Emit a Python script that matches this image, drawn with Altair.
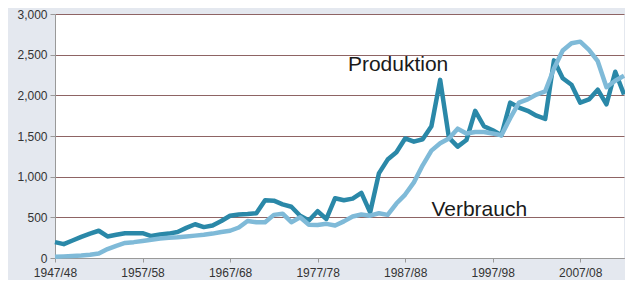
import altair as alt
import pandas as pd

# Seasons 1947/48 ... 2012/13
start_years = list(range(1947, 2013))
seasons = [f"{y}/{(y + 1) % 100:02d}" for y in start_years]

produktion = [
    195, 170, 215, 260, 300, 335, 265, 285, 305, 305,
    305, 270, 290, 300, 320, 370, 415, 380, 400, 455,
    520, 535, 540, 550, 710, 705, 660, 630, 520, 460,
    575, 480, 735, 710, 730, 800, 560, 1040, 1210, 1300,
    1470, 1430, 1460, 1620, 2190, 1480, 1370, 1450, 1810, 1620,
    1570, 1510, 1910, 1850, 1810, 1750, 1710, 2430, 2210, 2130,
    1910, 1950, 2070, 1890, 2290, 2010,
]
verbrauch = [
    15, 20, 25, 30, 40, 55, 110, 150, 185, 195,
    210, 225, 240, 250, 255, 265, 275, 285, 300, 320,
    335, 375, 455, 440, 440, 530, 545, 440, 500, 410,
    405, 420, 400, 450, 510, 535, 520, 550, 530, 670,
    780, 930, 1140, 1320, 1410, 1470, 1590, 1530, 1550, 1550,
    1530, 1510, 1720, 1910, 1950, 2010, 2050, 2330, 2550, 2640,
    2660, 2560, 2420, 2100, 2180, 2240,
]
series_names = ["Produktion", "Verbrauch"]
series_colors = ["#2a88a8", "#7fbad8"]

tick_labels = ["1947/48", "1957/58", "1967/68", "1977/78", "1987/88", "1997/98", "2007/08"]
y_ticks = [0, 500, 1000, 1500, 2000, 2500, 3000]

df = pd.DataFrame({
    "season": seasons * 2,
    "value": produktion + verbrauch,
    "series": ["Produktion"] * len(seasons) + ["Verbrauch"] * len(seasons),
})

prod_label = pd.DataFrame({"season": [seasons[33]], "value": [2300], "text": ["Produktion"]})
verb_label = pd.DataFrame({"season": [seasons[43]], "value": [520], "text": ["Verbrauch"]})

x_enc = alt.X(
    "season:O",
    sort=seasons,
    scale=alt.Scale(type="point", padding=0),
    axis=alt.Axis(
        values=tick_labels,
        labelAngle=0,
        title=None,
        labelFont="Liberation Sans",
        labelFontSize=12,
        labelColor="#333333",
        labelPadding=5,
        tickSize=4,
        tickColor="#999999",
        domainColor="#999999",
        grid=False,
    ),
)
y_enc = alt.Y(
    "value:Q",
    scale=alt.Scale(domain=[0, 3000], nice=False),
    axis=alt.Axis(
        values=y_ticks,
        format=",d",
        title=None,
        labelFont="Liberation Sans",
        labelFontSize=12,
        labelColor="#333333",
        labelPadding=3,
        tickSize=5,
        tickColor="#999999",
        domainColor="#999999",
        grid=True,
        gridColor="#8e6464",
        gridWidth=1,
    ),
)

lines = alt.Chart(df).mark_line(strokeWidth=4.5, strokeJoin="round").encode(
    x=x_enc,
    y=y_enc,
    color=alt.Color("series:N", scale=alt.Scale(domain=series_names, range=series_colors), legend=None),
    detail="series:N",
)

prod_line = lines.transform_filter(alt.datum.series == "Produktion")
verb_line = lines.transform_filter(alt.datum.series == "Verbrauch")


def label_layer(data, dx):
    return alt.Chart(data).mark_text(
        align="left", baseline="alphabetic", font="Liberation Sans", fontSize=21, color="#1a1a1a", dx=dx
    ).encode(
        x=alt.X("season:O", sort=seasons),
        y=alt.Y("value:Q"),
        text="text:N",
    )


chart = alt.layer(prod_line, verb_line, label_layer(prod_label, 4), label_layer(verb_label, 0)).properties(
    width=569,
    height=244,
    autosize=alt.AutoSizeParams(type="none"),
    padding={"left": 47, "top": 6, "right": 1, "bottom": 22},
    background="#e4e8ef",
).configure_view(fill="white", stroke=None)

chart.save("out.html", embed_options={"renderer": "svg", "actions": False})
